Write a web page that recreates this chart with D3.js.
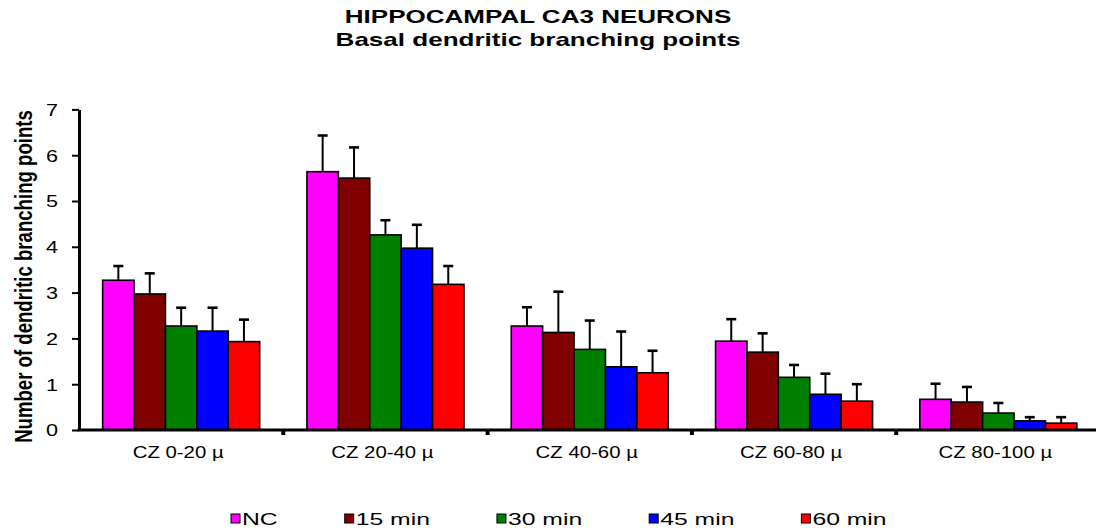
<!DOCTYPE html>
<html>
<head>
<meta charset=utf-8 />
<title>Hippocampal CA3 neurons</title>
<style type="text/css">
 body
    {
        margin:0;
        background:#fff;
    }
 text { font-family: "Liberation Sans", Arial, sans-serif; fill:#000; }
</style>
<script src="https://d3js.org/d3.v7.min.js"></script>
</head>
<body>

<div id="chart-container"></div>

<script>

// categories and series
var categories = ["CZ 0-20 \u00b5", "CZ 20-40 \u00b5", "CZ 40-60 \u00b5", "CZ 60-80 \u00b5", "CZ 80-100 \u00b5"];
var seriesNames = ["NC", "15 min", "30 min", "45 min", "60 min"];
var seriesColors = ["#ff00ff", "#800000", "#008000", "#0000ff", "#ff0000"];

// mean values per series, one per category
var ncValues    = [3.27, 5.64, 2.27, 1.94, 0.67];
var min15Values = [2.97, 5.50, 2.13, 1.70, 0.61];
var min30Values = [2.27, 4.26, 1.76, 1.15, 0.37];
var min45Values = [2.16, 3.97, 1.38, 0.78, 0.20];
var min60Values = [1.93, 3.18, 1.25, 0.63, 0.15];

// upper error (SD/SEM) per series
var ncErrors    = [0.31, 0.79, 0.41, 0.48, 0.34];
var min15Errors = [0.45, 0.67, 0.89, 0.41, 0.33];
var min30Errors = [0.40, 0.32, 0.63, 0.27, 0.22];
var min45Errors = [0.51, 0.51, 0.77, 0.45, 0.08];
var min60Errors = [0.48, 0.40, 0.48, 0.37, 0.13];

var yTicks = [0, 1, 2, 3, 4, 5, 6, 7];

var allValues = [ncValues, min15Values, min30Values, min45Values, min60Values];
var allErrors = [ncErrors, min15Errors, min30Errors, min45Errors, min60Errors];

// flatten into rows for d3
var data = [];
categories.forEach(function(c, ci) {
  seriesNames.forEach(function(s, si) {
    data.push({cat: c, series: s, value: allValues[si][ci], err: allErrors[si][ci], color: seriesColors[si]});
  });
});

var W = 1096, H = 531;
var plot = {left: 79, right: 1100.5, top: 109.4, bottom: 430};

var svg = d3.select("#chart-container")
  .append("svg")
    .attr("width", W)
    .attr("height", H);

var x0 = d3.scaleBand()
    .domain(categories)
    .range([plot.left, plot.right])
    .padding(0);

var x1 = d3.scaleBand()
    .domain(seriesNames)
    .range([0, x0.bandwidth()])
    .paddingInner(0)
    .paddingOuter(0.753);

var y = d3.scaleLinear()
    .domain([0, 7])
    .range([plot.bottom, plot.top]);

// bars
svg.append("g")
  .selectAll("rect")
  .data(data)
  .enter()
  .append("rect")
    .attr("x", d => x0(d.cat) + x1(d.series))
    .attr("y", d => y(d.value))
    .attr("width", x1.bandwidth())
    .attr("height", d => y(0) - y(d.value))
    .attr("fill", d => d.color)
    .attr("stroke", "#000")
    .attr("stroke-width", 1.6);

// error bars (upper only)
var eb = svg.append("g").attr("stroke", "#000");
eb.selectAll(".stem")
  .data(data)
  .enter()
  .append("line")
    .attr("class", "stem")
    .attr("x1", d => x0(d.cat) + x1(d.series) + x1.bandwidth() / 2)
    .attr("x2", d => x0(d.cat) + x1(d.series) + x1.bandwidth() / 2)
    .attr("y1", d => y(d.value))
    .attr("y2", d => y(d.value + d.err))
    .attr("stroke-width", 2);
eb.selectAll(".cap")
  .data(data)
  .enter()
  .append("line")
    .attr("class", "cap")
    .attr("x1", d => x0(d.cat) + x1(d.series) + x1.bandwidth() / 2 - 5)
    .attr("x2", d => x0(d.cat) + x1(d.series) + x1.bandwidth() / 2 + 5)
    .attr("y1", d => y(d.value + d.err))
    .attr("y2", d => y(d.value + d.err))
    .attr("stroke-width", 2.6);

// y axis
var yAxis = svg.append("g")
    .attr("transform", "translate(" + plot.left + ",0)")
    .call(d3.axisLeft(y).tickValues(yTicks).tickSize(7).tickPadding(0).tickSizeOuter(0));
yAxis.select(".domain").attr("stroke-width", 3);
yAxis.selectAll(".tick line").attr("stroke-width", 2);
yAxis.selectAll(".tick text").remove();
yAxis.selectAll(".tick")
  .append("text")
    .attr("transform", "translate(-21,5.8) scale(1.35,1)")
    .attr("text-anchor", "end")
    .style("font-size", "16px")
    .text(d => d);

// x axis: baseline, ticks between categories
var xAxis = svg.append("g")
    .attr("transform", "translate(0," + plot.bottom + ")");
xAxis.append("line")
    .attr("x1", plot.left - 1.5)
    .attr("x2", plot.right)
    .attr("stroke", "#000")
    .attr("stroke-width", 3);
xAxis.selectAll(".sep")
  .data(categories.slice(1))
  .enter()
  .append("line")
    .attr("class", "sep")
    .attr("x1", d => x0(d))
    .attr("x2", d => x0(d))
    .attr("y1", 0)
    .attr("y2", 5)
    .attr("stroke", "#000")
    .attr("stroke-width", 4);
xAxis.selectAll(".catlabel")
  .data(categories)
  .enter()
  .append("text")
    .attr("class", "catlabel")
    .attr("transform", d => "translate(" + (x0(d) + x0.bandwidth() / 2 - 3) + ",28) scale(1.25,1)")
    .attr("text-anchor", "middle")
    .style("font-size", "16.3px")
    .text(d => d);

// y axis title
svg.append("text")
    .attr("transform", "translate(32,276.5) scale(1.3,1) rotate(-90)")
    .attr("text-anchor", "middle")
    .style("font-size", "18.6px")
    .style("font-weight", "bold")
    .text("Number of dendritic branching points");

// titles
svg.append("text")
    .attr("transform", "translate(538,23) scale(1.4,1)")
    .attr("text-anchor", "middle")
    .style("font-size", "18.6px")
    .style("font-weight", "bold")
    .text("HIPPOCAMPAL CA3 NEURONS");
svg.append("text")
    .attr("transform", "translate(538,46) scale(1.4,1)")
    .attr("text-anchor", "middle")
    .style("font-size", "18.6px")
    .style("font-weight", "bold")
    .text("Basal dendritic branching points");

// legend
var legend = svg.append("g");
var lx = 231;
seriesNames.forEach(function(s, i) {
  var item = legend.append("g").attr("transform", "translate(" + lx + ",514)");
  item.append("rect")
      .attr("width", 9)
      .attr("height", 9)
      .attr("fill", seriesColors[i])
      .attr("stroke", "#000")
      .attr("stroke-width", 1);
  var t = item.append("text")
      .attr("transform", "translate(11,11) scale(1.5,1)")
      .style("font-size", "16.5px")
      .text(s);
  lx += 11 + t.node().getComputedTextLength() * 1.5 + 67;
});

</script>
</body>
</html>
